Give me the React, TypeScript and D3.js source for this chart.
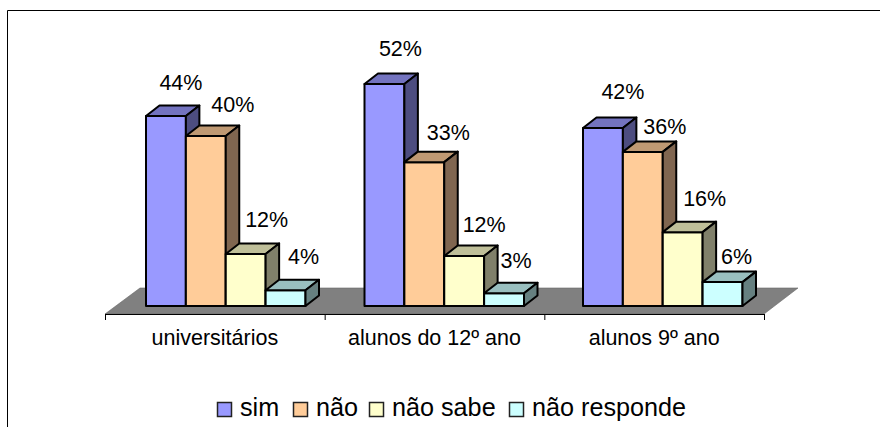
import { useEffect, useRef } from 'react';
import * as d3 from 'd3';

const categories = ['universitários', 'alunos do 12º ano', 'alunos 9º ano'];
const seriesNames = ['sim', 'não', 'não sabe', 'não responde'];

// bar heights, one list per series
const sim = [44.5, 52, 41.7];
const nao = [39.8, 33.7, 36.1];
const naoSabe = [12.2, 11.7, 17.3];
const naoResponde = [3.7, 3.0, 5.6];
const seriesValues = [sim, nao, naoSabe, naoResponde];

// the printed labels
const simLabels = ['44%', '52%', '42%'];
const naoLabels = ['40%', '33%', '36%'];
const naoSabeLabels = ['12%', '12%', '16%'];
const naoRespondeLabels = ['4%', '3%', '6%'];
const seriesLabels = [simLabels, naoLabels, naoSabeLabels, naoRespondeLabels];

const front = ['#9999ff', '#ffcc99', '#ffffcc', '#ccffff'];
const top = ['#7373bf', '#bf9973', '#bfbf99', '#99bfbf'];
const side = ['#4d4d80', '#806650', '#80806a', '#668080'];

// label placement relative to the bar top, series by category
const labelDx = [
  [15, 16, 20],
  [27, 24, 22],
  [21, 20, 22],
  [18, 12, 14],
];
const labelDy = [
  [-26, -28, -29],
  [-24, -22, -18],
  [-27, -24, -26],
  [-26, -25, -18],
];

const FONT = '"Liberation Sans", Arial, sans-serif';
const depthX = 13.5;
const depthY = 10.5;

export default function App() {
  const svgRef = useRef<SVGSVGElement>(null);

  useEffect(() => {
    const svg = d3.select(svgRef.current);
    svg.selectAll('*').remove();

    const x0 = d3.scaleBand().domain(categories).range([105, 764]);
    // bar groups sit a little tighter than the axis bands
    const xGroup = d3.scaleBand().domain(categories).range([105.5, 761]);
    const x1 = d3.scaleBand().domain(seriesNames).range([40.5, 200]);
    const y = d3.scaleLinear().domain([0, 52]).range([306, 84]);

    // chart frame, only top and left show
    svg
      .append('path')
      .attr('d', 'M7.5,427V10.5H880')
      .attr('fill', 'none')
      .attr('stroke', '#000')
      .attr('stroke-width', 1);

    // floor
    svg
      .append('path')
      .attr('d', 'M105,314L140,288H798L764,314Z')
      .attr('fill', '#808080')
      .attr('stroke', '#666')
      .attr('stroke-width', 0.6);

    // axis line with ticks at the band edges
    const tickXs = [...categories.map(c => x0(c)), x0.range()[1]];
    svg
      .append('line')
      .attr('x1', 105)
      .attr('x2', 764)
      .attr('y1', 314.5)
      .attr('y2', 314.5)
      .attr('stroke', '#000');
    svg
      .selectAll('line.tick')
      .data(tickXs)
      .enter()
      .append('line')
      .attr('class', 'tick')
      .attr('x1', d => d + 0.5)
      .attr('x2', d => d + 0.5)
      .attr('y1', 314)
      .attr('y2', 320)
      .attr('stroke', '#000');

    svg
      .selectAll('text.cat')
      .data(categories)
      .enter()
      .append('text')
      .attr('class', 'cat')
      .attr('x', d => x0(d) + x0.bandwidth() / 2)
      .attr('y', 345)
      .attr('text-anchor', 'middle')
      .style('font-family', FONT)
      .style('font-size', '21.5px')
      .text(d => d);

    // bars, left to right so each one covers the side of the last
    categories.forEach((cat, ci) => {
      seriesNames.forEach((name, si) => {
        const bx = xGroup(cat) + x1(name);
        const bw = x1.bandwidth();
        const by = y(seriesValues[si][ci]);
        const g = svg.append('g').attr('stroke', '#000').attr('stroke-width', 2).attr('stroke-linejoin', 'round');
        g.append('rect')
          .attr('x', bx)
          .attr('y', by)
          .attr('width', bw)
          .attr('height', y(0) - by)
          .attr('fill', front[si]);
        g.append('path')
          .attr('d', `M${bx},${by}l${depthX},${-depthY}h${bw}l${-depthX},${depthY}Z`)
          .attr('fill', top[si]);
        g.append('path')
          .attr('d', `M${bx + bw},${by}l${depthX},${-depthY}V${y(0) - depthY}l${-depthX},${depthY}Z`)
          .attr('fill', side[si]);
      });
    });

    // value labels on top of all the bars
    categories.forEach((cat, ci) => {
      seriesNames.forEach((name, si) => {
        svg
          .append('text')
          .attr('x', xGroup(cat) + x1(name) + x1.bandwidth() / 2 + labelDx[si][ci])
          .attr('y', y(seriesValues[si][ci]) + labelDy[si][ci])
          .attr('text-anchor', 'middle')
          .style('font-family', FONT)
          .style('font-size', '21.5px')
          .text(seriesLabels[si][ci]);
      });
    });

    // legend
    const legendX = [217, 293, 369, 509];
    const legend = svg
      .selectAll('g.legend')
      .data(seriesNames)
      .enter()
      .append('g')
      .attr('class', 'legend')
      .attr('transform', (_, i) => `translate(${legendX[i]}, 402)`);
    legend
      .append('rect')
      .attr('x', 0.5)
      .attr('y', 0.5)
      .attr('width', 14)
      .attr('height', 14)
      .attr('fill', (_, i) => front[i])
      .attr('stroke', '#222')
      .attr('stroke-width', 1.5);
    legend
      .append('text')
      .attr('x', 23)
      .attr('y', 14)
      .style('font-family', FONT)
      .style('font-size', '25.2px')
      .text(d => d);
  }, []);

  return (
    <svg
      ref={svgRef}
      width={880}
      height={427}
      style={{ position: 'absolute', left: 0, top: 0, display: 'block', background: '#fff' }}
    />
  );
}
